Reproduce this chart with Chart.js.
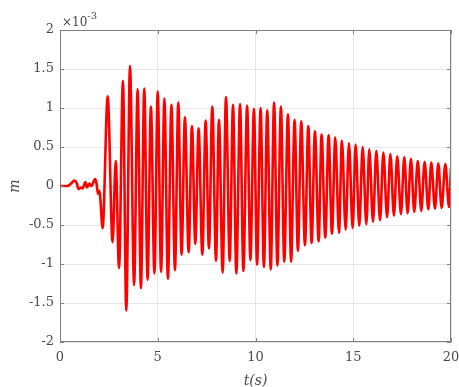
<!DOCTYPE html>
<html>
<head>
<meta charset="utf-8">
<script src="https://cdn.jsdelivr.net/npm/chart.js@4"></script>
<style>
  html, body { margin: 0; padding: 0; background: #fff; }
  #wrap { width: 459px; height: 387px; }
</style>
</head>
<body>
<div id="wrap"><canvas id="c" width="459" height="387"></canvas></div>
<script>
// time of each read-off extremum (s)
const timeS = [
    0, 0.38, 0.6, 0.73, 0.85, 0.95, 1.07, 1.16, 1.3, 1.38,
    1.5, 1.6, 1.8, 1.87, 1.94, 2.0, 2.05, 2.18, 2.44, 2.69,
    2.85, 3.02, 3.22, 3.39, 3.58, 3.79, 3.97, 4.14, 4.31, 4.48,
    4.65, 4.83, 5.0, 5.17, 5.34, 5.52, 5.7, 5.88, 6.05, 6.22,
    6.39, 6.58, 6.75, 6.92, 7.09, 7.28, 7.45, 7.62, 7.79, 7.98,
    8.13, 8.32, 8.49, 8.68, 8.85, 9.02, 9.21, 9.38, 9.57, 9.74,
    9.92, 10.08, 10.26, 10.43, 10.6, 10.78, 10.95, 11.12, 11.3, 11.47,
    11.66, 11.82, 12.0, 12.17, 12.34, 12.53, 12.7, 12.87, 13.04, 13.23,
    13.38, 13.57, 13.74, 13.91, 14.08, 14.27, 14.42, 14.61, 14.78, 14.97,
    15.12, 15.31, 15.48, 15.67, 15.82, 16.01, 16.18, 16.37, 16.54, 16.73,
    16.9, 17.08, 17.25, 17.44, 17.61, 17.78, 17.95, 18.12, 18.3, 18.48,
    18.65, 18.84, 18.99, 19.18, 19.35, 19.52, 19.71, 19.9, 20.0
];

// displacement m, in units of 1e-3
const dispM = [
    0, 0, 0.04, 0.07, 0.04, -0.04, -0.02, -0.03, 0.05, -0.02,
    0.03, 0, 0.09, 0.03, -0.1, -0.06, -0.12, -0.54, 1.15, -0.72,
    0.32, -1.05, 1.35, -1.6, 1.54, -1.27, 1.24, -1.31, 1.25, -1.2,
    1.02, -1.12, 1.21, -1.1, 1.12, -1.19, 1.04, -1.08, 1.07, -0.88,
    0.88, -0.85, 0.77, -0.74, 0.74, -0.88, 0.84, -0.8, 1.02, -0.96,
    0.85, -1.11, 1.14, -0.96, 1.04, -1.12, 1.05, -1.09, 1.03, -0.95,
    0.99, -1.01, 1.0, -1.04, 0.97, -1.07, 1.07, -1.02, 1.02, -0.97,
    0.92, -0.97, 0.85, -0.83, 0.83, -0.76, 0.77, -0.73, 0.7, -0.71,
    0.66, -0.66, 0.65, -0.61, 0.62, -0.6, 0.58, -0.56, 0.55, -0.54,
    0.53, -0.51, 0.5, -0.49, 0.47, -0.46, 0.45, -0.44, 0.43, -0.4,
    0.41, -0.38, 0.38, -0.36, 0.37, -0.35, 0.35, -0.33, 0.32, -0.32,
    0.31, -0.3, 0.3, -0.29, 0.29, -0.28, 0.28, -0.27, 0.23
];

const xTicks = [0, 5, 10, 15, 20];
const yTicks = [-2, -1.5, -1, -0.5, 0, 0.5, 1, 1.5, 2];
const xLabel = 't(s)';
const yLabel = 'm';
const expBase = '\u00d710';
const expPower = '-3';

const serif = '"DejaVu Serif", "Liberation Serif", serif';
const axisColor = '#808080';
const textColor = '#4a4a4a';

// matlab style box with inward ticks + exponent label
const boxPlugin = {
    id: 'matlabBox',
    afterDraw(chart) {
        const { ctx, chartArea: a, scales } = chart;
        const len = 4;
        ctx.save();
        ctx.strokeStyle = axisColor;
        ctx.lineWidth = 1;
        ctx.strokeRect(a.left + 0.5, a.top + 0.5, a.right - a.left - 1, a.bottom - a.top - 1);
        ctx.beginPath();
        xTicks.forEach(v => {
            const px = Math.round(scales.x.getPixelForValue(v)) + 0.5;
            ctx.moveTo(px, a.bottom); ctx.lineTo(px, a.bottom - len);
            ctx.moveTo(px, a.top); ctx.lineTo(px, a.top + len);
        });
        yTicks.forEach(v => {
            const py = Math.round(scales.y.getPixelForValue(v)) + 0.5;
            ctx.moveTo(a.left, py); ctx.lineTo(a.left + len, py);
            ctx.moveTo(a.right, py); ctx.lineTo(a.right - len, py);
        });
        ctx.stroke();

        ctx.fillStyle = textColor;
        ctx.textBaseline = 'alphabetic';
        ctx.textAlign = 'left';
        ctx.font = '12px ' + serif;
        ctx.fillText(expBase, a.left + 2, a.top - 4);
        const w = ctx.measureText(expBase).width;
        ctx.font = '10px ' + serif;
        ctx.fillText(expPower, a.left + 2 + w, a.top - 11);
        ctx.restore();
    }
};

const ctx = document.getElementById('c').getContext('2d');
new Chart(ctx, {
    type: 'line',
    data: {
        datasets: [{
            data: timeS.map((t, i) => ({ x: t, y: dispM[i] })),
            borderColor: '#ff0000',
            borderWidth: 2.6,
            pointRadius: 0,
            cubicInterpolationMode: 'monotone',
            borderJoinStyle: 'round',
            fill: false
        }]
    },
    options: {
        responsive: false,
        animation: false,
        layout: { padding: { top: 30, right: 8, left: 0, bottom: 0 } },
        plugins: {
            legend: { display: false },
            tooltip: { enabled: false }
        },
        scales: {
            x: {
                type: 'linear',
                min: 0,
                max: 20,
                afterFit(scale) {
                    scale.height = 45;
                    scale.paddingLeft = 0;
                    scale.paddingRight = 0;
                },
                afterBuildTicks(scale) { scale.ticks = xTicks.map(v => ({ value: v })); },
                grid: { color: '#e6e6e6', drawTicks: false },
                border: { display: false },
                ticks: { color: textColor, padding: 8, font: { family: serif, size: 13 } },
                title: {
                    display: true,
                    text: xLabel,
                    color: textColor,
                    padding: { top: 0, bottom: 0 },
                    font: { family: serif, size: 14, style: 'italic', lineHeight: 0.8 }
                }
            },
            y: {
                min: -2,
                max: 2,
                afterFit(scale) {
                    scale.width = 60;
                    scale.paddingTop = 0;
                    scale.paddingBottom = 0;
                },
                afterBuildTicks(scale) { scale.ticks = yTicks.map(v => ({ value: v })); },
                grid: { color: '#e6e6e6', drawTicks: false },
                border: { display: false },
                ticks: {
                    color: textColor,
                    padding: 6,
                    font: { family: serif, size: 13 },
                    callback: v => String(v)
                },
                title: {
                    display: true,
                    text: yLabel,
                    color: textColor,
                    padding: { top: 7, bottom: 0 },
                    font: { family: serif, size: 14, style: 'italic' }
                }
            }
        }
    },
    plugins: [boxPlugin]
});
</script>
</body>
</html>
